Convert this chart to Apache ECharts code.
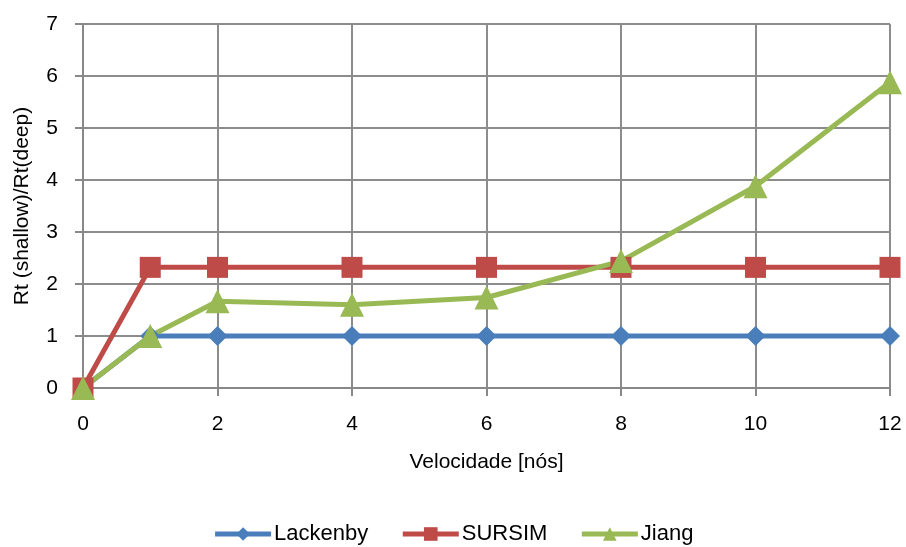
<!DOCTYPE html>
<html><head><meta charset="utf-8">
<script src="https://cdn.jsdelivr.net/npm/echarts@6/dist/echarts.min.js"></script>
<style>html,body{margin:0;padding:0;background:#fff}#c{width:906px;height:547px}</style>
</head><body><div id="c"></div>
<script>
const xValues = [0, 1, 2, 4, 6, 8, 10, 12];
const lackenby = [0, 1, 1, 1, 1, 1, 1, 1];
const sursim = [0, 2.32, 2.32, 2.32, 2.32, 2.32, 2.32, 2.32];
const jiang = [0, 1, 1.67, 1.6, 1.74, 2.44, 3.88, 5.88];
const seriesNames = ['Lackenby', 'SURSIM', 'Jiang'];
const xTitle = 'Velocidade [nós]';
const yTitle = 'Rt (shallow)/Rt(deep)';

const pairs = arr => xValues.map((x, i) => [x, arr[i]]);
const font = 'Liberation Sans, Arial, sans-serif';
const chart = echarts.init(document.getElementById('c'));
chart.setOption({
  animation: false,
  grid: {left: 83, right: 16, top: 24, bottom: 159},
  legend: {
    bottom: -3, left: 'center', itemWidth: 56, itemHeight: 17, itemGap: 32,
    lineStyle: {width: 5},
    textStyle: {fontFamily: font, fontSize: 22, color: '#000', padding: [0, 0, 0, -2]},
    data: seriesNames
  },
  xAxis: {
    type: 'value', min: 0, max: 12, interval: 2,
    name: xTitle, nameLocation: 'middle', nameGap: 64,
    nameTextStyle: {fontFamily: font, fontSize: 21, color: '#000'},
    axisLine: {show: true, lineStyle: {color: '#888', width: 2}},
    axisTick: {show: true, length: 8, lineStyle: {color: '#888', width: 2}},
    axisLabel: {fontFamily: font, fontSize: 21, color: '#000', margin: 26},
    splitLine: {show: true, lineStyle: {color: '#8c8c8c', width: 2}}
  },
  yAxis: {
    type: 'value', min: 0, max: 7, interval: 1,
    name: yTitle, nameLocation: 'middle', nameGap: 50,
    nameTextStyle: {fontFamily: font, fontSize: 21, color: '#000'},
    axisLine: {show: true, lineStyle: {color: '#888', width: 2}},
    axisTick: {show: true, length: 8, lineStyle: {color: '#888', width: 2}},
    axisLabel: {fontFamily: font, fontSize: 21, color: '#000', margin: 25},
    splitLine: {show: true, lineStyle: {color: '#8c8c8c', width: 2}}
  },
  series: [
    {name: seriesNames[0], type: 'line', data: pairs(lackenby), symbol: 'diamond', symbolSize: 20,
     lineStyle: {width: 5, color: '#4a7ebb'}, itemStyle: {color: '#4a7ebb'}},
    {name: seriesNames[1], type: 'line', data: pairs(sursim), symbol: 'rect', symbolSize: 21,
     lineStyle: {width: 5, color: '#be4b48'}, itemStyle: {color: '#be4b48'}},
    {name: seriesNames[2], type: 'line', data: pairs(jiang), symbol: 'triangle', symbolSize: 24,
     lineStyle: {width: 5, color: '#98b954'}, itemStyle: {color: '#98b954'}}
  ]
});
</script></body></html>
